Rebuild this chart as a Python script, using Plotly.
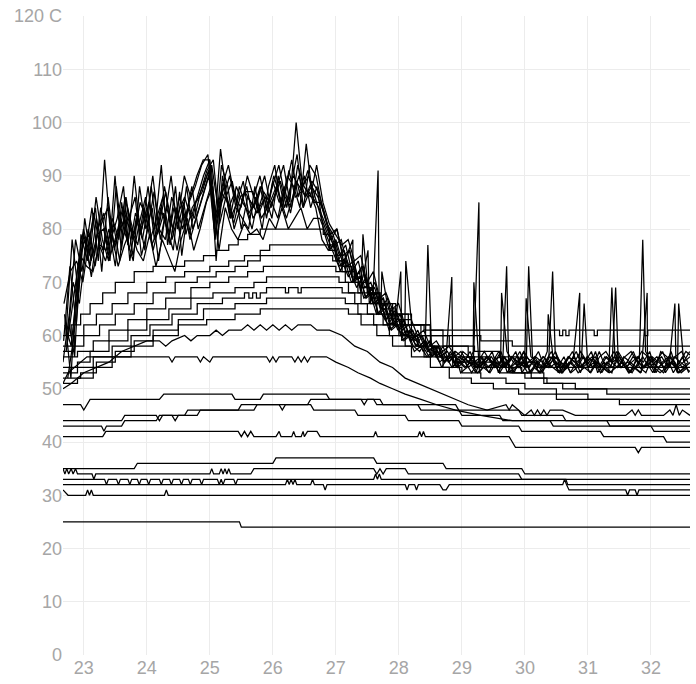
import plotly.graph_objects as go

# ---------------- data ----------------
X_START = 22.67
X_END = 32.62
STEP = 0.1
HOT_OFFSETS = [0.0, 0.03, 0.06, 0.015, 0.045, 0.075, 0.025, 0.05, 0.085, 0.01]

HOT_1 = [55, 64, 78, 72, 80, 75, 84, 77, 81, 74,
         86, 78, 82, 76, 88, 79, 83, 77, 84, 80,
         85, 88, 92, 94, 80, 95, 86, 82, 88, 84,
         80, 86, 90, 84, 88, 92, 85, 100, 88, 90,
         86, 82, 79, 77, 72, 75, 70, 72, 67, 69,
         64, 66, 62, 64, 60, 61, 58, 60, 57, 58,
         56, 57, 55, 55, 54, 56, 54, 55, 56, 54,
         56, 54, 55, 56, 54, 56, 55, 54, 56, 55,
         54, 56, 54, 55, 56, 54, 56, 55, 54, 56,
         55, 54, 56, 54, 55, 56, 54, 56, 55, 54]
HOT_2 = [62, 58, 70, 79, 73, 82, 76, 80, 73, 85,
         77, 90, 79, 84, 76, 81, 87, 78, 83, 86,
         82, 86, 90, 93, 74, 90, 84, 87, 80, 86,
         84, 88, 82, 89, 85, 87, 93, 86, 90, 84,
         88, 80, 76, 78, 74, 71, 73, 68, 70, 66,
         67, 63, 65, 61, 62, 59, 61, 58, 59, 56,
         58, 55, 57, 56, 54, 55, 56, 54, 55, 53,
         55, 56, 54, 55, 53, 55, 56, 54, 55, 53,
         55, 54, 56, 54, 55, 53, 55, 54, 56, 54,
         53, 55, 54, 56, 54, 53, 55, 54, 56, 53]
HOT_3 = [58, 70, 66, 76, 84, 74, 93, 78, 82, 88,
         74, 82, 78, 85, 80, 92, 77, 84, 79, 88,
         80, 84, 88, 92, 84, 88, 82, 85, 89, 82,
         86, 80, 88, 92, 84, 90, 88, 84, 96, 86,
         84, 81, 78, 74, 76, 72, 69, 71, 66, 68,
         64, 62, 64, 60, 61, 58, 57, 59, 56, 58,
         55, 56, 54, 55, 57, 54, 55, 53, 56, 54,
         55, 53, 56, 54, 55, 53, 54, 56, 53, 55,
         53, 54, 56, 53, 55, 54, 53, 56, 54, 55,
         54, 53, 55, 53, 56, 53, 55, 53, 54, 55]
HOT_4 = [66, 72, 74, 70, 78, 84, 72, 86, 76, 82,
         78, 74, 88, 80, 84, 74, 82, 90, 80, 85,
         78, 82, 86, 90, 78, 92, 88, 80, 84, 88,
         82, 84, 86, 82, 90, 84, 88, 94, 84, 92,
         90, 84, 80, 77, 78, 73, 74, 69, 71, 66,
         68, 63, 64, 61, 63, 59, 60, 57, 59, 56,
         57, 55, 56, 57, 55, 56, 54, 56, 55, 57,
         54, 56, 55, 57, 55, 54, 56, 55, 57, 54,
         56, 55, 57, 55, 54, 56, 57, 55, 54, 56,
         57, 55, 54, 56, 55, 57, 54, 56, 57, 55]
HOT_5 = [60, 78, 68, 82, 74, 79, 80, 74, 88, 78,
         82, 86, 75, 80, 87, 78, 84, 80, 86, 82,
         88, 80, 84, 88, 82, 86, 90, 84, 82, 80,
         88, 82, 84, 90, 86, 82, 86, 90, 86, 88,
         86, 83, 79, 80, 75, 76, 71, 73, 68, 69,
         65, 66, 62, 63, 60, 61, 58, 59, 56, 57,
         55, 56, 54, 57, 56, 54, 55, 56, 54, 55,
         57, 55, 54, 56, 55, 57, 54, 55, 56, 54,
         55, 57, 54, 55, 56, 54, 55, 57, 55, 54,
         56, 55, 57, 55, 54, 55, 56, 54, 55, 57]
HOT_6 = [52, 60, 75, 73, 72, 77, 74, 79, 73, 77,
         80, 76, 74, 79, 73, 78, 75, 72, 78, 82,
         76, 80, 85, 88, 76, 84, 80, 78, 81, 79,
         80, 78, 82, 80, 84, 80, 82, 84, 80, 82,
         82, 79, 76, 73, 74, 70, 71, 67, 68, 64,
         65, 61, 62, 59, 60, 57, 58, 56, 57, 55,
         56, 54, 55, 54, 55, 53, 54, 53, 55, 54,
         53, 54, 55, 53, 54, 53, 55, 54, 53, 54,
         55, 53, 54, 53, 55, 54, 53, 54, 55, 53,
         54, 53, 55, 54, 53, 54, 55, 53, 54, 53]
HOT_7 = [64, 52, 72, 80, 75, 86, 78, 74, 90, 76,
         84, 79, 85, 82, 90, 80, 78, 86, 82, 90,
         86, 90, 93, 93, 79, 88, 92, 86, 84, 90,
         86, 90, 84, 88, 92, 86, 84, 92, 88, 86,
         92, 85, 81, 79, 77, 78, 74, 75, 70, 72,
         67, 68, 65, 66, 62, 63, 60, 61, 58, 59,
         57, 58, 56, 55, 56, 55, 54, 56, 55, 56,
         54, 56, 55, 54, 56, 55, 54, 56, 55, 54,
         56, 55, 54, 56, 55, 54, 56, 55, 56, 54,
         55, 56, 54, 55, 56, 54, 55, 56, 54, 55]
HOT_8 = [57, 66, 74, 78, 71, 80, 83, 75, 79, 84,
         76, 83, 80, 88, 78, 84, 80, 76, 87, 79,
         84, 86, 89, 92, 78, 89, 82, 88, 85, 83,
         85, 88, 83, 86, 89, 84, 90, 88, 86, 89,
         87, 83, 78, 80, 74, 76, 71, 73, 68, 70,
         65, 67, 62, 64, 60, 61, 58, 59, 57, 58,
         55, 57, 54, 56, 55, 53, 56, 54, 55, 57,
         53, 55, 57, 54, 56, 53, 55, 57, 54, 56,
         53, 55, 56, 54, 57, 53, 55, 56, 54, 55,
         57, 54, 53, 56, 55, 54, 57, 53, 55, 56]
HOT_9 = [63, 56, 79, 74, 83, 77, 76, 82, 78, 86,
         80, 77, 84, 78, 82, 86, 79, 88, 75, 84,
         82, 87, 91, 93, 81, 86, 89, 83, 87, 85,
         83, 87, 85, 88, 84, 91, 86, 87, 91, 85,
         85, 81, 79, 75, 77, 72, 74, 69, 70, 66,
         67, 63, 65, 61, 62, 59, 60, 57, 58, 56,
         57, 54, 56, 55, 53, 55, 57, 55, 54, 56,
         55, 57, 53, 55, 56, 54, 57, 55, 53, 55,
         57, 54, 55, 57, 53, 55, 54, 57, 55, 53,
         55, 57, 56, 53, 57, 56, 53, 55, 57, 56]
HOT_10 = [59, 73, 62, 77, 79, 73, 81, 84, 77, 80,
          83, 75, 81, 86, 77, 80, 88, 82, 76, 83,
          79, 85, 87, 91, 82, 87, 85, 81, 86, 87,
          87, 83, 86, 85, 82, 88, 83, 89, 84, 87,
          84, 78, 76, 77, 73, 74, 70, 71, 67, 68,
          64, 65, 61, 62, 59, 60, 58, 58, 56, 57,
          54, 56, 57, 53, 54, 57, 53, 55, 57, 53,
          56, 53, 54, 57, 53, 55, 53, 56, 57, 53,
          54, 56, 53, 56, 54, 57, 54, 53, 57, 55,
          53, 56, 55, 57, 53, 55, 56, 55, 53, 54]
HOT_LINES = [HOT_1, HOT_2, HOT_3, HOT_4, HOT_5, HOT_6, HOT_7, HOT_8, HOT_9, HOT_10]

SPIKE_X = [27.27, 27.43, 27.51, 27.67, 27.73, 28.03, 28.11, 28.46, 28.84,
           29.19, 29.27, 29.63, 29.71, 30.02, 30.06, 30.37, 30.44, 30.87,
           30.94, 31.38, 31.44, 31.87, 31.94, 32.38, 32.44]
SPIKE_Y = [78, 79, 76, 91, 72, 72, 74, 77, 71,
           70, 85, 68, 73, 67, 73, 64, 72, 68,
           66, 69, 69, 78, 68, 66, 66]
SPIKE_LINE = [0, 1, 2, 3, 4, 5, 6, 7, 8,
              9, 3, 4, 5, 6, 7, 8, 9, 0,
              1, 2, 3, 4, 5, 6, 7]

# step lines (value held until next x)
STEP_1 = [(22.67, 60), (22.8, 62), (22.95, 64), (23.1, 66), (23.3, 68), (23.5, 70),
          (23.8, 72), (24.1, 73), (24.6, 74), (24.9, 75), (25.1, 76), (25.3, 77),
          (25.45, 78), (25.6, 79), (25.8, 80), (26.8, 79), (26.9, 77), (27.0, 75),
          (27.1, 73), (27.25, 71), (27.4, 69), (27.55, 67), (27.75, 65), (27.95, 63),
          (28.2, 62), (28.5, 61), (30.55, 60), (30.6, 61), (30.65, 60), (30.7, 61),
          (31.1, 60), (31.15, 61), (31.9, 60), (31.95, 61), (32.62, 61)]
STEP_2 = [(22.67, 58), (22.85, 60), (23.0, 62), (23.2, 64), (23.45, 66), (23.7, 68),
          (24.0, 70), (24.3, 71), (24.6, 72), (25.0, 73), (25.3, 74), (25.55, 75),
          (25.8, 76), (25.95, 77), (26.9, 76), (27.0, 74), (27.15, 72), (27.3, 70),
          (27.5, 68), (27.7, 66), (27.9, 64), (28.15, 62), (28.4, 61), (28.7, 60),
          (29.3, 59), (29.8, 58), (32.62, 58)]
STEP_3 = [(22.67, 57), (22.85, 58), (23.0, 60), (23.25, 62), (23.5, 64), (23.8, 66),
          (24.1, 68), (24.45, 70), (24.8, 71), (25.1, 72), (25.4, 73), (25.6, 74),
          (25.8, 75), (26.95, 74), (27.1, 72), (27.3, 70), (27.5, 68), (27.7, 66),
          (27.95, 64), (28.2, 62), (28.5, 60), (28.8, 58), (29.2, 57), (29.6, 56),
          (29.9, 55), (30.2, 54), (32.62, 54)]
STEP_4 = [(22.67, 56), (22.9, 57), (23.15, 59), (23.4, 61), (23.7, 63), (24.0, 65),
          (24.3, 67), (24.7, 69), (25.0, 70), (25.3, 71), (25.6, 72), (25.85, 73),
          (27.0, 72), (27.15, 70), (27.35, 68), (27.55, 66), (27.8, 64), (28.05, 62),
          (28.35, 60), (28.7, 58), (29.1, 56), (29.45, 55), (29.7, 54), (29.95, 53),
          (30.3, 52), (32.62, 52)]
STEP_5 = [(22.67, 54), (22.9, 55), (23.1, 57), (23.4, 59), (23.7, 61), (24.0, 63),
          (24.35, 65), (24.7, 67), (25.05, 68), (25.4, 69), (25.7, 70), (25.9, 71),
          (27.05, 70), (27.2, 68), (27.4, 66), (27.65, 64), (27.9, 62), (28.2, 60),
          (28.5, 58), (28.85, 56), (29.2, 55), (29.5, 54), (29.8, 53), (30.1, 52),
          (30.35, 51), (30.6, 50), (32.62, 50)]
STEP_6 = [(22.67, 53), (22.9, 54), (23.15, 56), (23.45, 58), (23.75, 60), (24.05, 62),
          (24.4, 64), (24.8, 66), (25.2, 67), (25.55, 68), (25.62, 67), (25.68, 68),
          (25.74, 67), (25.8, 68), (25.9, 69), (26.2, 68), (26.25, 69), (26.4, 68),
          (26.45, 69), (27.1, 68), (27.3, 66), (27.5, 64), (27.75, 62), (28.0, 60),
          (28.3, 58), (28.6, 56), (28.9, 55), (29.2, 54), (29.6, 53), (30.0, 52),
          (30.3, 51), (30.8, 50), (31.3, 49), (32.62, 49)]
STEP_7 = [(22.67, 52), (22.95, 53), (23.2, 55), (23.5, 57), (23.8, 59), (24.1, 61),
          (24.5, 63), (24.9, 65), (25.4, 66), (25.9, 67), (27.15, 66), (27.35, 64),
          (27.6, 62), (27.85, 60), (28.1, 58), (28.4, 56), (28.7, 54), (29.0, 53),
          (29.3, 52), (29.7, 51), (30.0, 50), (30.5, 49), (31.0, 48), (32.62, 48)]
STEP_8 = [(22.67, 51), (22.9, 52), (23.15, 54), (23.45, 56), (23.75, 58), (24.1, 60),
          (24.5, 62), (24.95, 63), (25.4, 64), (25.8, 65), (27.2, 64), (27.4, 62),
          (27.65, 60), (27.9, 58), (28.2, 56), (28.5, 54), (28.8, 52), (29.15, 51),
          (29.5, 50), (29.9, 49), (30.5, 48), (31.5, 47), (32.62, 47)]
STEP_LINES = [STEP_1, STEP_2, STEP_3, STEP_4, STEP_5, STEP_6, STEP_7, STEP_8]

# polylines (vertices joined by straight segments)
POLY_1 = [(22.67, 50), (22.8, 51), (23.0, 53), (23.2, 54), (23.4, 55), (23.6, 57),
          (23.8, 58), (24.0, 59), (24.2, 59), (24.3, 58), (24.4, 59), (24.6, 60),
          (24.7, 59), (24.8, 60), (25.0, 60), (25.1, 61), (25.2, 60), (25.3, 61),
          (25.5, 61), (25.6, 62), (25.7, 61), (25.8, 62), (25.9, 61), (26.0, 62),
          (26.1, 61), (26.2, 62), (26.3, 61), (26.4, 62), (26.6, 62), (26.7, 61),
          (26.9, 61), (27.1, 60), (27.3, 58), (27.5, 57), (27.7, 55), (27.9, 54),
          (28.1, 52), (28.3, 51), (28.5, 50), (28.7, 49), (28.9, 48), (29.1, 47),
          (29.4, 46), (29.7, 47), (29.75, 46), (29.8, 47), (30.0, 45), (30.1, 46),
          (30.15, 45), (30.2, 46), (30.25, 45), (30.3, 46), (30.35, 45), (30.4, 46),
          (30.6, 46), (30.8, 45), (31.6, 45), (31.7, 46), (31.75, 45), (31.8, 46),
          (31.85, 45), (32.2, 45), (32.3, 46), (32.35, 45), (32.4, 47), (32.45, 45),
          (32.5, 46), (32.62, 45)]
POLY_2 = [(22.67, 51), (22.75, 53), (22.85, 54), (22.95, 55), (23.05, 56), (24.35, 56),
          (24.4, 55), (24.45, 56), (24.8, 56), (24.85, 55), (24.9, 56), (25.0, 55),
          (25.05, 56), (25.9, 56), (25.95, 55), (26.0, 56), (26.05, 55), (26.1, 56),
          (26.3, 56), (26.35, 55), (26.4, 56), (26.45, 55), (26.5, 56), (26.55, 55),
          (26.6, 56), (26.85, 56), (27.0, 55), (27.2, 54), (27.35, 53), (27.55, 52),
          (27.7, 51), (27.9, 50), (28.1, 49), (28.35, 48), (28.6, 47), (28.9, 46),
          (29.3, 45), (29.8, 44), (32.62, 44)]
POLY_3 = [(22.67, 47), (22.95, 47), (23.0, 46), (23.05, 47), (23.1, 48), (24.2, 48),
          (24.27, 49), (25.35, 49), (25.4, 48), (25.8, 48), (25.85, 49), (26.85, 49),
          (26.9, 48), (27.4, 48), (27.45, 47), (27.5, 48), (27.6, 48), (27.65, 47),
          (28.3, 47), (28.35, 46), (28.95, 46), (29.0, 45), (29.6, 45), (29.65, 44),
          (30.4, 44), (30.45, 43), (32.62, 43)]
POLY_4 = [(22.67, 44), (23.6, 44), (23.65, 45), (24.15, 45), (24.2, 44), (24.25, 45),
          (24.8, 45), (24.85, 46), (25.7, 46), (25.75, 47), (26.1, 47), (26.15, 46),
          (26.2, 47), (26.55, 47), (26.6, 48), (27.7, 48), (27.75, 47), (28.9, 47),
          (28.95, 46), (29.9, 46), (29.95, 45), (30.6, 45), (30.65, 44), (31.3, 44),
          (31.35, 43), (32.0, 43), (32.05, 42), (32.62, 42)]
POLY_5 = [(22.67, 43), (23.28, 43), (23.32, 42), (23.36, 43), (23.6, 43), (23.65, 44),
          (24.15, 44), (24.2, 45), (24.4, 45), (24.45, 44), (24.5, 45), (24.6, 45),
          (24.65, 46), (25.45, 46), (25.5, 47), (26.6, 47), (26.65, 46), (27.3, 46),
          (27.35, 45), (28.1, 45), (28.15, 44), (28.95, 44), (29.0, 43), (29.9, 43),
          (29.95, 42), (31.2, 42), (31.25, 41), (32.2, 41), (32.25, 40), (32.62, 40)]
POLY_6 = [(22.67, 41), (23.3, 41), (23.35, 42), (25.45, 42), (25.5, 41), (25.55, 42),
          (25.6, 41), (25.65, 42), (25.7, 41), (26.05, 41), (26.1, 42), (26.13, 41),
          (26.3, 41), (26.33, 42), (26.36, 41), (26.45, 41), (26.48, 42), (26.5, 41),
          (26.55, 42), (26.7, 42), (26.75, 41), (27.6, 41), (27.63, 42), (27.66, 41),
          (28.3, 41), (28.33, 42), (28.36, 41), (28.39, 42), (28.42, 41), (29.75, 41),
          (29.8, 40), (29.85, 39), (31.75, 39), (31.8, 38), (31.85, 39), (32.62, 39)]
POLY_7 = [(22.67, 35), (23.8, 35), (23.85, 36), (26.0, 36), (26.05, 37), (27.6, 37),
          (27.65, 36), (28.7, 36), (28.75, 35), (29.95, 35), (30.0, 34), (32.62, 34)]
POLY_8 = [(22.67, 35), (22.7, 34), (22.73, 35), (22.76, 34), (22.8, 35), (22.83, 34),
          (22.87, 35), (22.9, 34), (23.13, 34), (23.16, 33), (23.19, 34), (25.0, 34),
          (25.03, 35), (25.06, 34), (25.15, 34), (25.18, 35), (25.21, 34), (25.24, 35),
          (25.27, 34), (25.3, 35), (25.33, 34), (25.65, 34), (25.7, 35), (27.6, 35),
          (27.65, 34), (27.7, 35), (27.75, 34), (27.8, 35), (28.1, 35), (28.15, 34),
          (29.9, 34), (29.95, 33), (32.62, 33)]
POLY_9 = [(22.67, 33), (23.33, 33), (23.36, 32), (23.39, 33), (23.52, 33), (23.55, 32),
          (23.58, 33), (23.7, 33), (23.73, 32), (23.76, 33), (23.85, 33), (23.88, 32),
          (23.91, 33), (24.0, 33), (24.03, 32), (24.06, 33), (24.2, 33), (24.23, 32),
          (24.26, 33), (24.36, 33), (24.39, 32), (24.42, 33), (24.52, 33), (24.55, 32),
          (24.58, 33), (24.66, 33), (24.69, 32), (24.72, 33), (24.84, 33), (24.87, 32),
          (24.9, 33), (25.12, 33), (25.15, 32), (25.18, 33), (25.21, 32), (25.24, 33),
          (25.38, 33), (25.41, 32), (25.44, 33), (27.6, 33), (27.63, 34), (27.66, 33),
          (27.69, 34), (27.72, 33), (30.65, 33), (30.68, 32), (32.62, 32)]
POLY_10 = [(22.67, 32), (26.2, 32), (26.23, 33), (26.26, 32), (26.29, 33), (26.32, 32),
           (26.35, 33), (26.38, 32), (26.6, 32), (26.63, 33), (26.66, 32), (26.8, 32),
           (26.83, 31), (26.86, 32), (28.1, 32), (28.13, 31), (28.16, 32), (28.25, 32),
           (28.28, 31), (28.31, 32), (28.65, 32), (28.7, 31), (28.75, 31), (28.8, 32),
           (30.6, 32), (30.63, 33), (30.66, 32), (30.7, 31), (31.6, 31), (31.63, 30),
           (31.66, 31), (31.75, 31), (31.78, 30), (31.81, 31), (32.62, 31)]
POLY_11 = [(22.67, 31), (22.75, 30), (23.03, 30), (23.06, 31), (23.09, 30), (23.12, 31),
           (23.15, 30), (24.28, 30), (24.31, 31), (24.34, 30), (32.62, 30)]
POLY_12 = [(22.67, 25), (25.47, 25), (25.5, 24), (32.62, 24)]
POLY_LINES = [POLY_1, POLY_2, POLY_3, POLY_4, POLY_5, POLY_6, POLY_7, POLY_8,
              POLY_9, POLY_10, POLY_11, POLY_12]

X_TICKS = [23, 24, 25, 26, 27, 28, 29, 30, 31, 32]
Y_TICKS = [0, 10, 20, 30, 40, 50, 60, 70, 80, 90, 100, 110, 120]
Y_TICK_TEXT = ["0", "10", "20", "30", "40", "50", "60", "70", "80", "90", "100", "110", "120 C"]

# ---------------- figure ----------------
LINE = dict(color="black", width=1.25)
fig = go.Figure()

for k, (vals, off) in enumerate(zip(HOT_LINES, HOT_OFFSETS)):
    pts = [(X_START + off + STEP * i, v) for i, v in enumerate(vals)]
    pts += [(sx, sy) for sx, sy, sl in zip(SPIKE_X, SPIKE_Y, SPIKE_LINE) if sl == k]
    pts.sort()
    fig.add_trace(go.Scatter(x=[p[0] for p in pts], y=[p[1] for p in pts],
                             mode="lines", line=LINE, hoverinfo="skip"))

for series in STEP_LINES:
    fig.add_trace(go.Scatter(x=[p[0] for p in series], y=[p[1] for p in series],
                             mode="lines", line=dict(LINE, shape="hv"), hoverinfo="skip"))

for series in POLY_LINES:
    fig.add_trace(go.Scatter(x=[p[0] for p in series], y=[p[1] for p in series],
                             mode="lines", line=LINE, hoverinfo="skip"))

TICK_FONT = dict(family="Liberation Sans, Arial, Helvetica, sans-serif", size=18, color="#a6a6a6")
fig.update_layout(
    width=696, height=684,
    margin=dict(l=63, r=6, t=15, b=24),
    paper_bgcolor="white", plot_bgcolor="white",
    showlegend=False,
    xaxis=dict(range=[X_START, X_END], tickvals=X_TICKS, showgrid=True,
               gridcolor="#ececec", gridwidth=1, zeroline=False, showline=False,
               ticks="", tickfont=TICK_FONT, fixedrange=True),
    yaxis=dict(range=[0, 120], tickvals=Y_TICKS, ticktext=Y_TICK_TEXT, showgrid=True,
               gridcolor="#ececec", gridwidth=1, zeroline=False, showline=False,
               ticks="", tickfont=TICK_FONT, fixedrange=True),
)

fig.write_html("out.html")
